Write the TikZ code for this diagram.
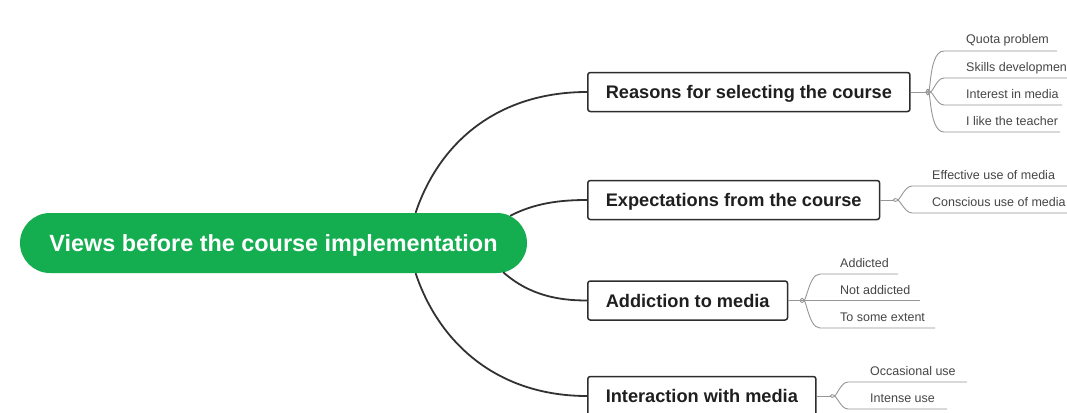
\documentclass[tikz,border=0pt]{standalone}
\usepackage{fontspec}
\setmainfont{Liberation Sans}
\definecolor{mmgreen}{RGB}{20,174,80}
\definecolor{boxline}{RGB}{45,45,45}
\definecolor{mainline}{RGB}{50,50,50}
\definecolor{leafline}{RGB}{150,150,150}
\definecolor{leaftext}{RGB}{70,70,70}
\begin{document}
\begin{tikzpicture}[x=1pt,y=-1pt,
  rootnode/.style={fill=mmgreen, rounded corners=30pt, minimum width=507pt, minimum height=60pt,
    text=white, font=\fontsize{23.4}{26}\selectfont\bfseries, inner sep=0pt,
    text height=17pt, text depth=0pt},
  branchbox/.style={draw=boxline, line width=1.5pt, rounded corners=2.5pt, fill=white,
    minimum height=39pt, inner xsep=18pt, anchor=west, text=black!88,
    text height=13pt, text depth=0pt,
    font=\fontsize{18.2}{20}\selectfont\bfseries},
  mainconn/.style={draw=mainline, line width=1.8pt},
  leafconn/.style={draw=leafline, line width=0.9pt, line join=round},
  leaflabel/.style={anchor=base west, text=leaftext, inner sep=0pt,
    font=\fontsize{12.5}{14}\selectfont}
]
\clip (0,0) rectangle (1067,412);
\fill[white] (0,0) rectangle (1067,412);

% root
\node[rootnode] (c) at (273.5,243) {Views before the course implementation};

% branches
\node[branchbox] (r) at (587,92) {Reasons for selecting the course};
\node[branchbox] (e) at (587,200) {Expectations from the course};
\node[branchbox] (a) at (587,300.5) {Addiction to media};
\node[branchbox] (m) at (587,396) {Interaction with media};

% main connectors
\draw[mainconn] (c.12.5) .. controls (440,140) and (500,92) .. (r.west);
\draw[mainconn] ([xshift=-17pt,yshift=-3pt]c.north east) .. controls (535,203) and (560,200) .. (e.west);
\draw[mainconn] ([xshift=-24pt,yshift=1pt]c.south east) .. controls (530,296) and (560,300.5) .. (a.west);
\draw[mainconn] (c.-12.5) .. controls (440,346) and (500,396) .. (m.west);

% leaves of Reasons
\coordinate (rj) at (926,92);
\coordinate (r1) at (944,51);  \coordinate (r1e) at (1057,51);
\coordinate (r2) at (944,78);  \coordinate (r2e) at (1080,78);
\coordinate (r3) at (944,105); \coordinate (r3e) at (1062,105);
\coordinate (r4) at (944,132); \coordinate (r4e) at (1060,132);
\draw[leafconn] (r.east) -- (rj);
\draw[leafconn] (rj) to[out=-70,in=180] (r1) -- (r1e);
\draw[leafconn] (rj) to[out=-45,in=180] (r2) -- (r2e);
\draw[leafconn] (rj) to[out=45,in=180] (r3) -- (r3e);
\draw[leafconn] (rj) to[out=70,in=180] (r4) -- (r4e);
\node[leaflabel] (rl1) at (966,44) {Quota problem};
\node[leaflabel] (rl2) at (966,71) {Skills development};
\node[leaflabel] (rl3) at (966,98) {Interest in media};
\node[leaflabel] (rl4) at (966,125) {I like the teacher};

% leaves of Expectations
\coordinate (ej) at (893,200);
\coordinate (e1) at (912,186); \coordinate (e1e) at (1080,186);
\coordinate (e2) at (912,213); \coordinate (e2e) at (1080,213);
\draw[leafconn] (e.east) -- (ej);
\draw[leafconn] (ej) to[out=-50,in=180] (e1) -- (e1e);
\draw[leafconn] (ej) to[out=50,in=180] (e2) -- (e2e);
\node[leaflabel] (el1) at (932,179) {Effective use of media};
\node[leaflabel] (el2) at (932,206) {Conscious use of media};

% leaves of Addiction
\coordinate (aj) at (800,300.5);
\coordinate (a1) at (820,274); \coordinate (a1e) at (898,274);
\coordinate (a2e) at (920,300.5);
\coordinate (a3) at (820,328); \coordinate (a3e) at (935,328);
\draw[leafconn] (a.east) -- (aj);
\draw[leafconn] (aj) to[out=-60,in=180] (a1) -- (a1e);
\draw[leafconn] (aj) -- (a2e);
\draw[leafconn] (aj) to[out=60,in=180] (a3) -- (a3e);
\node[leaflabel] (al1) at (840,267) {Addicted};
\node[leaflabel] (al2) at (840,294) {Not addicted};
\node[leaflabel] (al3) at (840,321) {To some extent};

% leaves of Interaction
\coordinate (mj) at (830,396);
\coordinate (m1) at (848,382); \coordinate (m1e) at (967,382);
\coordinate (m2) at (848,409); \coordinate (m2e) at (947,409);
\draw[leafconn] (m.east) -- (mj);
\draw[leafconn] (mj) to[out=-50,in=180] (m1) -- (m1e);
\draw[leafconn] (mj) to[out=50,in=180] (m2) -- (m2e);
\node[leaflabel] (ml1) at (870,375) {Occasional use};
\node[leaflabel] (ml2) at (870,402) {Intense use};
\end{tikzpicture}
\end{document}
